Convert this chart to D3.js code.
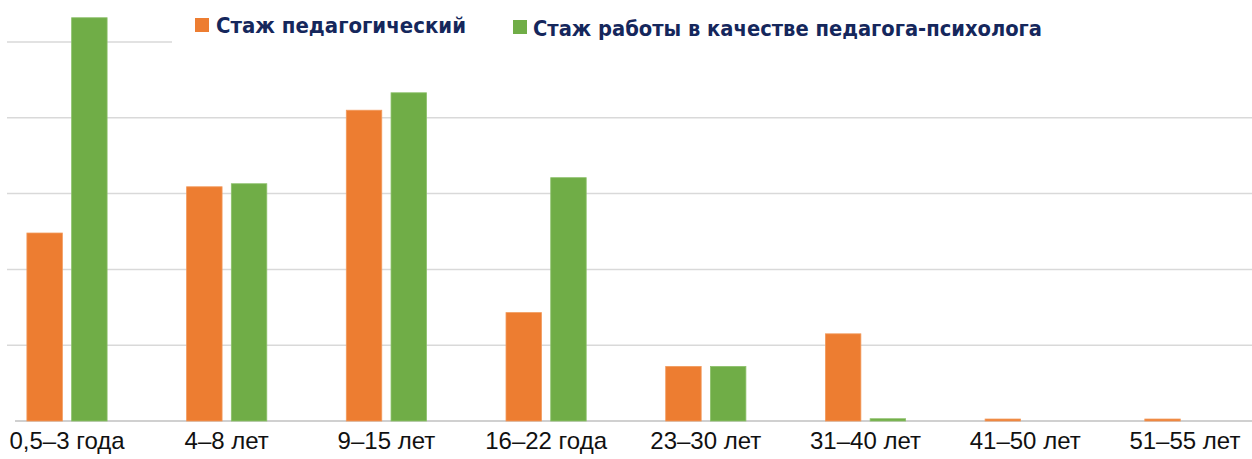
<!DOCTYPE html>
<html><head><meta charset="utf-8">
<script src="https://cdn.jsdelivr.net/npm/d3@7"></script>
<style>html,body{margin:0;padding:0;background:#fff;}svg{display:block;}</style>
</head><body>
<svg id="chart" width="1252" height="459"></svg>
<script>
const categories = ["0,5–3 года","4–8 лет","9–15 лет","16–22 года","23–30 лет","31–40 лет","41–50 лет","51–55 лет"];
const seriesNames = ["Стаж педагогический","Стаж работы в качестве педагога-психолога"];
const pedagogical = [12.4, 15.45, 20.5, 7.15, 3.6, 5.75, 0.13, 0.13];
const psychologist = [26.6, 15.65, 21.65, 16.05, 3.6, 0.15, 0, 0];
const yTicks = [0, 5, 10, 15, 20, 25];
const colors = ["#ED7D31", "#70AD47"];

const svg = d3.select("#chart");
const y = d3.scaleLinear().domain([0, 25]).range([421, 42]);
const x0 = d3.scaleBand().domain(categories).range([-12.85, 1264.75]).padding(0);
const bw = x0.bandwidth();
const x1 = d3.scaleBand().domain([0, 1]).range([bw/2 - 40.1, bw/2 + 40.1]).paddingInner(0.207).paddingOuter(0);

// gridlines
svg.append("g").selectAll("line").data(yTicks.filter(d => d > 0)).join("line")
  .attr("x1", 7).attr("x2", 1252)
  .attr("y1", d => y(d)).attr("y2", d => y(d))
  .attr("stroke", "#d9d9d9").attr("stroke-width", 1.5);

// legend background covering top gridline
svg.append("rect").attr("x", 172).attr("y", 30).attr("width", 1080).attr("height", 24).attr("fill", "#fff");

// baseline
svg.append("line").attr("x1", 15).attr("x2", 1252).attr("y1", y(0)).attr("y2", y(0))
  .attr("stroke", "#d0d0d0").attr("stroke-width", 2);

// bars
const rows = categories.map((c, i) => ({c, vals: [pedagogical[i], psychologist[i]]}));
const g = svg.append("g").selectAll("g").data(rows).join("g")
  .attr("transform", d => `translate(${x0(d.c)},0)`);
g.selectAll("rect").data(d => d.vals.map((v, s) => ({v, s}))).join("rect")
  .filter(d => d.v > 0)
  .attr("x", d => x1(d.s)).attr("width", x1.bandwidth())
  .attr("y", d => y(d.v)).attr("height", d => y(0) - y(d.v))
  .attr("fill", d => colors[d.s])
  .attr("stroke", d => d.s === 0 ? "#f29a5c" : "#8cc06a").attr("stroke-width", 0.8);

// category labels
svg.append("g").selectAll("text").data(categories).join("text")
  .attr("x", d => x0(d) + bw/2).attr("y", 449)
  .attr("text-anchor", "middle")
  .attr("font-family", "'Liberation Sans', Arial, sans-serif")
  .attr("font-size", 24).attr("fill", "#111")
  .text(d => d);

// legend
const legendItems = [
  {name: seriesNames[0], sx: 195, sy: 18, tx: 216, ty: 33, tw: 250, col: colors[0]},
  {name: seriesNames[1], sx: 513, sy: 20, tx: 533, ty: 36, tw: 509, col: colors[1]}
];
const lg = svg.append("g").selectAll("g").data(legendItems).join("g");
lg.append("rect").attr("x", d => d.sx).attr("y", d => d.sy).attr("width", 14).attr("height", 14).attr("fill", d => d.col);
lg.append("text").attr("x", d => d.tx).attr("y", d => d.ty)
  .attr("font-family", "'DejaVu Sans', Verdana, sans-serif").attr("font-weight", "bold")
  .attr("font-size", 21).attr("fill", "#15275c")
  .attr("textLength", d => d.tw).attr("lengthAdjust", "spacingAndGlyphs")
  .text(d => d.name);
</script>
</body></html>
